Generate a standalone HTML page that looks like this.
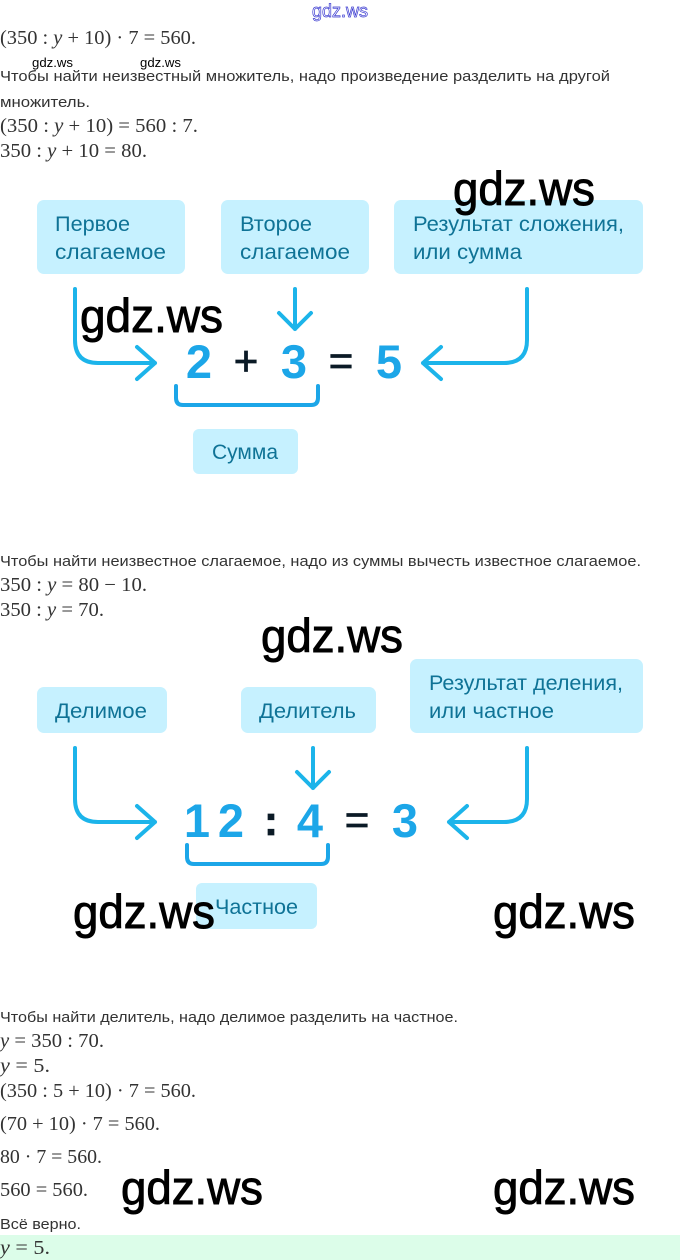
<!DOCTYPE html>
<html>
<head>
<meta charset="utf-8">
<style>
html,body{margin:0;padding:0;background:#fff;width:680px;height:1260px;overflow:hidden}
svg{display:block}
.t{font-family:"Liberation Sans",sans-serif;font-size:15px;fill:#333}
.m{font-family:"Liberation Serif",serif;font-size:20px;fill:#333}
.m tspan{font-style:italic}
.w{font-family:"Liberation Sans",sans-serif;font-size:47px;fill:#000;stroke:#000;stroke-width:.9}
.b{font-family:"Liberation Sans",sans-serif;font-size:21px;fill:#0f7396}
.d{font-family:"Liberation Sans",sans-serif;font-size:47px;font-weight:bold;fill:#1ca6e8;text-anchor:middle}
.k{font-family:"Liberation Sans",sans-serif;font-size:42px;fill:#0b1a26;stroke:#0b1a26;stroke-width:.8;text-anchor:middle}
.a{fill:none;stroke:#1cb4ea;stroke-width:4;stroke-linecap:round;stroke-linejoin:round}
.box{fill:#c6f1ff}
</style>
</head>
<body>
<svg xmlns="http://www.w3.org/2000/svg" width="680" height="1260" viewBox="0 0 680 1260">
<rect x="0" y="1235" width="680" height="25" fill="#dcfde9"/>

<text x="312" y="17" textLength="56" lengthAdjust="spacingAndGlyphs" font-family="Liberation Sans" font-size="18" fill="#fff" stroke="#3a3ad0" stroke-width="0.7">gdz.ws</text>

<text class="m" x="0" y="44" textLength="196" lengthAdjust="spacingAndGlyphs">(350 : <tspan>y</tspan> + 10) · 7 = 560.</text>
<text x="32" y="67" textLength="41" lengthAdjust="spacingAndGlyphs" font-family="Liberation Sans" font-size="13" fill="#000">gdz.ws</text>
<text x="140" y="67" textLength="41" lengthAdjust="spacingAndGlyphs" font-family="Liberation Sans" font-size="13" fill="#000">gdz.ws</text>
<text class="t" x="0" y="81" textLength="610" lengthAdjust="spacingAndGlyphs">Чтобы найти неизвестный множитель, надо произведение разделить на другой</text>
<text class="t" x="0" y="107" textLength="90" lengthAdjust="spacingAndGlyphs">множитель.</text>
<text class="m" x="0" y="132" textLength="198" lengthAdjust="spacingAndGlyphs">(350 : <tspan>y</tspan> + 10) = 560 : 7.</text>
<text class="m" x="0" y="157" textLength="147" lengthAdjust="spacingAndGlyphs">350 : <tspan>y</tspan> + 10 = 80.</text>

<!-- Diagram 1 -->
<rect class="box" x="37" y="200" width="148" height="74" rx="7"/>
<rect class="box" x="221" y="200" width="148" height="74" rx="7"/>
<rect class="box" x="394" y="200" width="249" height="74" rx="7"/>
<rect class="box" x="193" y="429" width="105" height="45" rx="6"/>
<text class="b" x="55" y="231" textLength="75" lengthAdjust="spacingAndGlyphs">Первое</text>
<text class="b" x="55" y="259" textLength="111" lengthAdjust="spacingAndGlyphs">слагаемое</text>
<text class="b" x="240" y="231" textLength="72" lengthAdjust="spacingAndGlyphs">Второе</text>
<text class="b" x="240" y="259" textLength="110" lengthAdjust="spacingAndGlyphs">слагаемое</text>
<text class="b" x="413" y="231" textLength="211" lengthAdjust="spacingAndGlyphs">Результат сложения,</text>
<text class="b" x="413" y="259" textLength="109" lengthAdjust="spacingAndGlyphs">или сумма</text>
<text class="b" x="212" y="459" textLength="66" lengthAdjust="spacingAndGlyphs">Сумма</text>

<path class="a" d="M75 289V340Q75 363 98 363H155M137 347L155 363L137 379"/>
<path class="a" d="M295 289V329M279 313L295 329L311 313"/>
<path class="a" d="M527 289V340Q527 363 504 363H423M441 347L423 363L441 379"/>
<path class="a" d="M176 386V398Q176 405 183 405H311Q318 405 318 398V386" style="stroke:#1ca6e8"/>
<text class="d" x="199" y="378">2</text>
<text class="k" x="246" y="375">+</text>
<text class="d" x="294" y="378">3</text>
<text class="k" x="341" y="375">=</text>
<text class="d" x="389" y="378">5</text>

<text class="t" x="0" y="566" textLength="641" lengthAdjust="spacingAndGlyphs">Чтобы найти неизвестное слагаемое, надо из суммы вычесть известное слагаемое.</text>
<text class="m" x="0" y="591" textLength="147" lengthAdjust="spacingAndGlyphs">350 : <tspan>y</tspan> = 80 − 10.</text>
<text class="m" x="0" y="616" textLength="104" lengthAdjust="spacingAndGlyphs">350 : <tspan>y</tspan> = 70.</text>

<!-- Diagram 2 -->
<rect class="box" x="37" y="687" width="130" height="46" rx="7"/>
<rect class="box" x="241" y="687" width="135" height="46" rx="7"/>
<rect class="box" x="410" y="659" width="233" height="74" rx="7"/>
<rect class="box" x="196" y="883" width="121" height="46" rx="6"/>
<text class="b" x="55" y="718" textLength="92" lengthAdjust="spacingAndGlyphs">Делимое</text>
<text class="b" x="259" y="718" textLength="97" lengthAdjust="spacingAndGlyphs">Делитель</text>
<text class="b" x="429" y="690" textLength="194" lengthAdjust="spacingAndGlyphs">Результат деления,</text>
<text class="b" x="429" y="718" textLength="125" lengthAdjust="spacingAndGlyphs">или частное</text>
<text class="b" x="215" y="914" textLength="83" lengthAdjust="spacingAndGlyphs">Частное</text>

<path class="a" d="M75 748V799Q75 822 98 822H155M137 806L155 822L137 838"/>
<path class="a" d="M313 748V788M297 772L313 788L329 772"/>
<path class="a" d="M527 748V799Q527 822 504 822H449M467 806L449 822L467 838"/>
<path class="a" d="M187 845V857Q187 864 194 864H321Q328 864 328 857V845" style="stroke:#1ca6e8"/>
<text class="d" x="197" y="837">1</text>
<text class="d" x="231" y="837">2</text>
<text class="k" x="271" y="835" style="font-weight:bold">:</text>
<text class="d" x="310" y="837">4</text>
<text class="k" x="357" y="834">=</text>
<text class="d" x="405" y="837">3</text>

<text class="t" x="0" y="1022" textLength="458" lengthAdjust="spacingAndGlyphs">Чтобы найти делитель, надо делимое разделить на частное.</text>
<text class="m" x="0" y="1047" textLength="104" lengthAdjust="spacingAndGlyphs"><tspan>y</tspan> = 350 : 70.</text>
<text class="m" x="0" y="1072" textLength="50" lengthAdjust="spacingAndGlyphs"><tspan>y</tspan> = 5.</text>
<text class="m" x="0" y="1097" textLength="196" lengthAdjust="spacingAndGlyphs">(350 : 5 + 10) · 7 = 560.</text>
<text class="m" x="0" y="1130" textLength="160" lengthAdjust="spacingAndGlyphs">(70 + 10) · 7 = 560.</text>
<text class="m" x="0" y="1163" textLength="102" lengthAdjust="spacingAndGlyphs">80 · 7 = 560.</text>
<text class="m" x="0" y="1196" textLength="88" lengthAdjust="spacingAndGlyphs">560 = 560.</text>
<text class="t" x="0" y="1229" textLength="81" lengthAdjust="spacingAndGlyphs">Всё верно.</text>
<text class="m" x="0" y="1254" textLength="50" lengthAdjust="spacingAndGlyphs"><tspan>y</tspan> = 5.</text>

<!-- Large watermarks -->
<text class="w" x="453" y="205" textLength="142" lengthAdjust="spacingAndGlyphs">gdz.ws</text>
<text class="w" x="80" y="332" textLength="143" lengthAdjust="spacingAndGlyphs">gdz.ws</text>
<text class="w" x="261" y="652" textLength="142" lengthAdjust="spacingAndGlyphs">gdz.ws</text>
<text class="w" x="73" y="928" textLength="142" lengthAdjust="spacingAndGlyphs">gdz.ws</text>
<text class="w" x="493" y="928" textLength="142" lengthAdjust="spacingAndGlyphs">gdz.ws</text>
<text class="w" x="121" y="1204" textLength="142" lengthAdjust="spacingAndGlyphs">gdz.ws</text>
<text class="w" x="493" y="1204" textLength="142" lengthAdjust="spacingAndGlyphs">gdz.ws</text>
</svg>
</body>
</html>
